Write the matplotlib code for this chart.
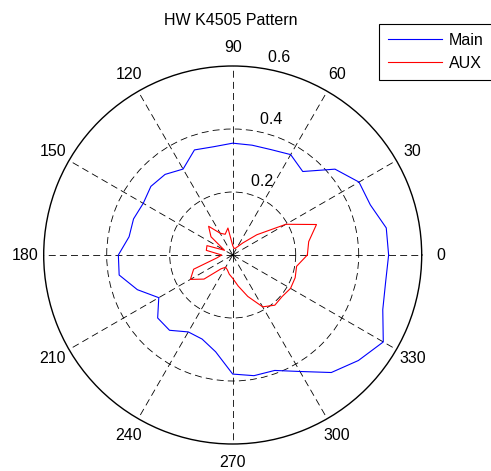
"""HW K4505 antenna pattern (Main vs AUX), MATLAB-style polar plot."""
import numpy as np
import matplotlib
matplotlib.use("Agg")
matplotlib.rcParams.update({
    "font.family": "Liberation Sans",
    "font.size": 11.5,
    "lines.scale_dashes": False,
})
import matplotlib.pyplot as plt

# angles in degrees, 10 deg steps
angle_deg = [0, 10, 20, 30, 40, 50, 60, 70, 80, 90, 100, 110,
             120, 130, 140, 150, 160, 170, 180, 190, 200, 210, 220, 230,
             240, 250, 260, 270, 280, 290, 300, 310, 320, 330, 340, 350]

main_r = [0.495, 0.495, 0.465, 0.463, 0.424, 0.346, 0.368, 0.356, 0.354,
          0.355, 0.349, 0.355, 0.315, 0.334, 0.339, 0.328, 0.335, 0.334,
          0.363, 0.366, 0.322, 0.271, 0.311, 0.312, 0.282, 0.284, 0.312,
          0.378, 0.389, 0.390, 0.427, 0.487, 0.521, 0.552, 0.507, 0.493]

aux_r = [0.237, 0.245, 0.283, 0.195, 0.100, 0.050, 0.030, 0.022, 0.022,
         0.030, 0.087, 0.070, 0.080, 0.119, 0.090, 0.030, 0.087, 0.085,
         0.035, 0.050, 0.132, 0.155, 0.119, 0.057, 0.045, 0.050, 0.062,
         0.074, 0.100, 0.140, 0.190, 0.208, 0.205, 0.212, 0.211, 0.206]

ring_ticks = [0.2, 0.4, 0.6]
spoke_deg = [0, 30, 60, 90, 120, 150, 180, 210, 240, 270, 300, 330]
rmax = 0.6

# close the curves (0 deg repeated at 360)
theta = np.deg2rad(angle_deg + [360])
main_c = main_r + main_r[:1]
aux_c = aux_r + aux_r[:1]

W, H = 491, 471
fig = plt.figure(figsize=(W / 100, H / 100), dpi=100)
cx, cy, rad = 232.7, 255.0, 189.0
ax = fig.add_axes([(cx - rad) / W, (H - cy - rad) / H, 2 * rad / W, 2 * rad / H],
                  projection="polar")

ax.plot(theta, main_c, color="#0000ff", lw=0.8, label="Main")
ax.plot(theta, aux_c, color="#ff0000", lw=0.8, label="AUX")

ax.set_ylim(0, rmax)
ax.set_rgrids(ring_ticks[:-1], labels=[])
ax.set_thetagrids(spoke_deg, labels=[])
ax.grid(True, color="k", linestyle=(0, (5, 3)), linewidth=0.6)
ax.spines["polar"].set_color("k")
ax.spines["polar"].set_linewidth(1.0)
ax.tick_params(length=0)

# angle labels outside the circle, like MATLAB's polar()
for a in spoke_deg:
    ax.text(np.deg2rad(a), 1.1 * rmax, str(a), ha="center", va="center",
            clip_on=False)
# radial labels along the 82 deg line
for r in ring_ticks:
    ax.text(np.deg2rad(82), r + 0.01, "  " + f"{r:g}", ha="left", va="bottom",
            clip_on=False)

fig.text(230.5 / W, 1 - 25 / H, "HW K4505 Pattern", ha="center", va="baseline")

leg = ax.legend(loc="upper left", bbox_to_anchor=(379 / W, 1 - 24 / H),
                bbox_transform=fig.transFigure, borderaxespad=0,
                fancybox=False, framealpha=1, edgecolor="k",
                handlelength=3.4, handletextpad=0.4, borderpad=0.55,
                labelspacing=0.5)
leg.get_frame().set_linewidth(0.8)

fig.savefig("out.png", dpi=100)
